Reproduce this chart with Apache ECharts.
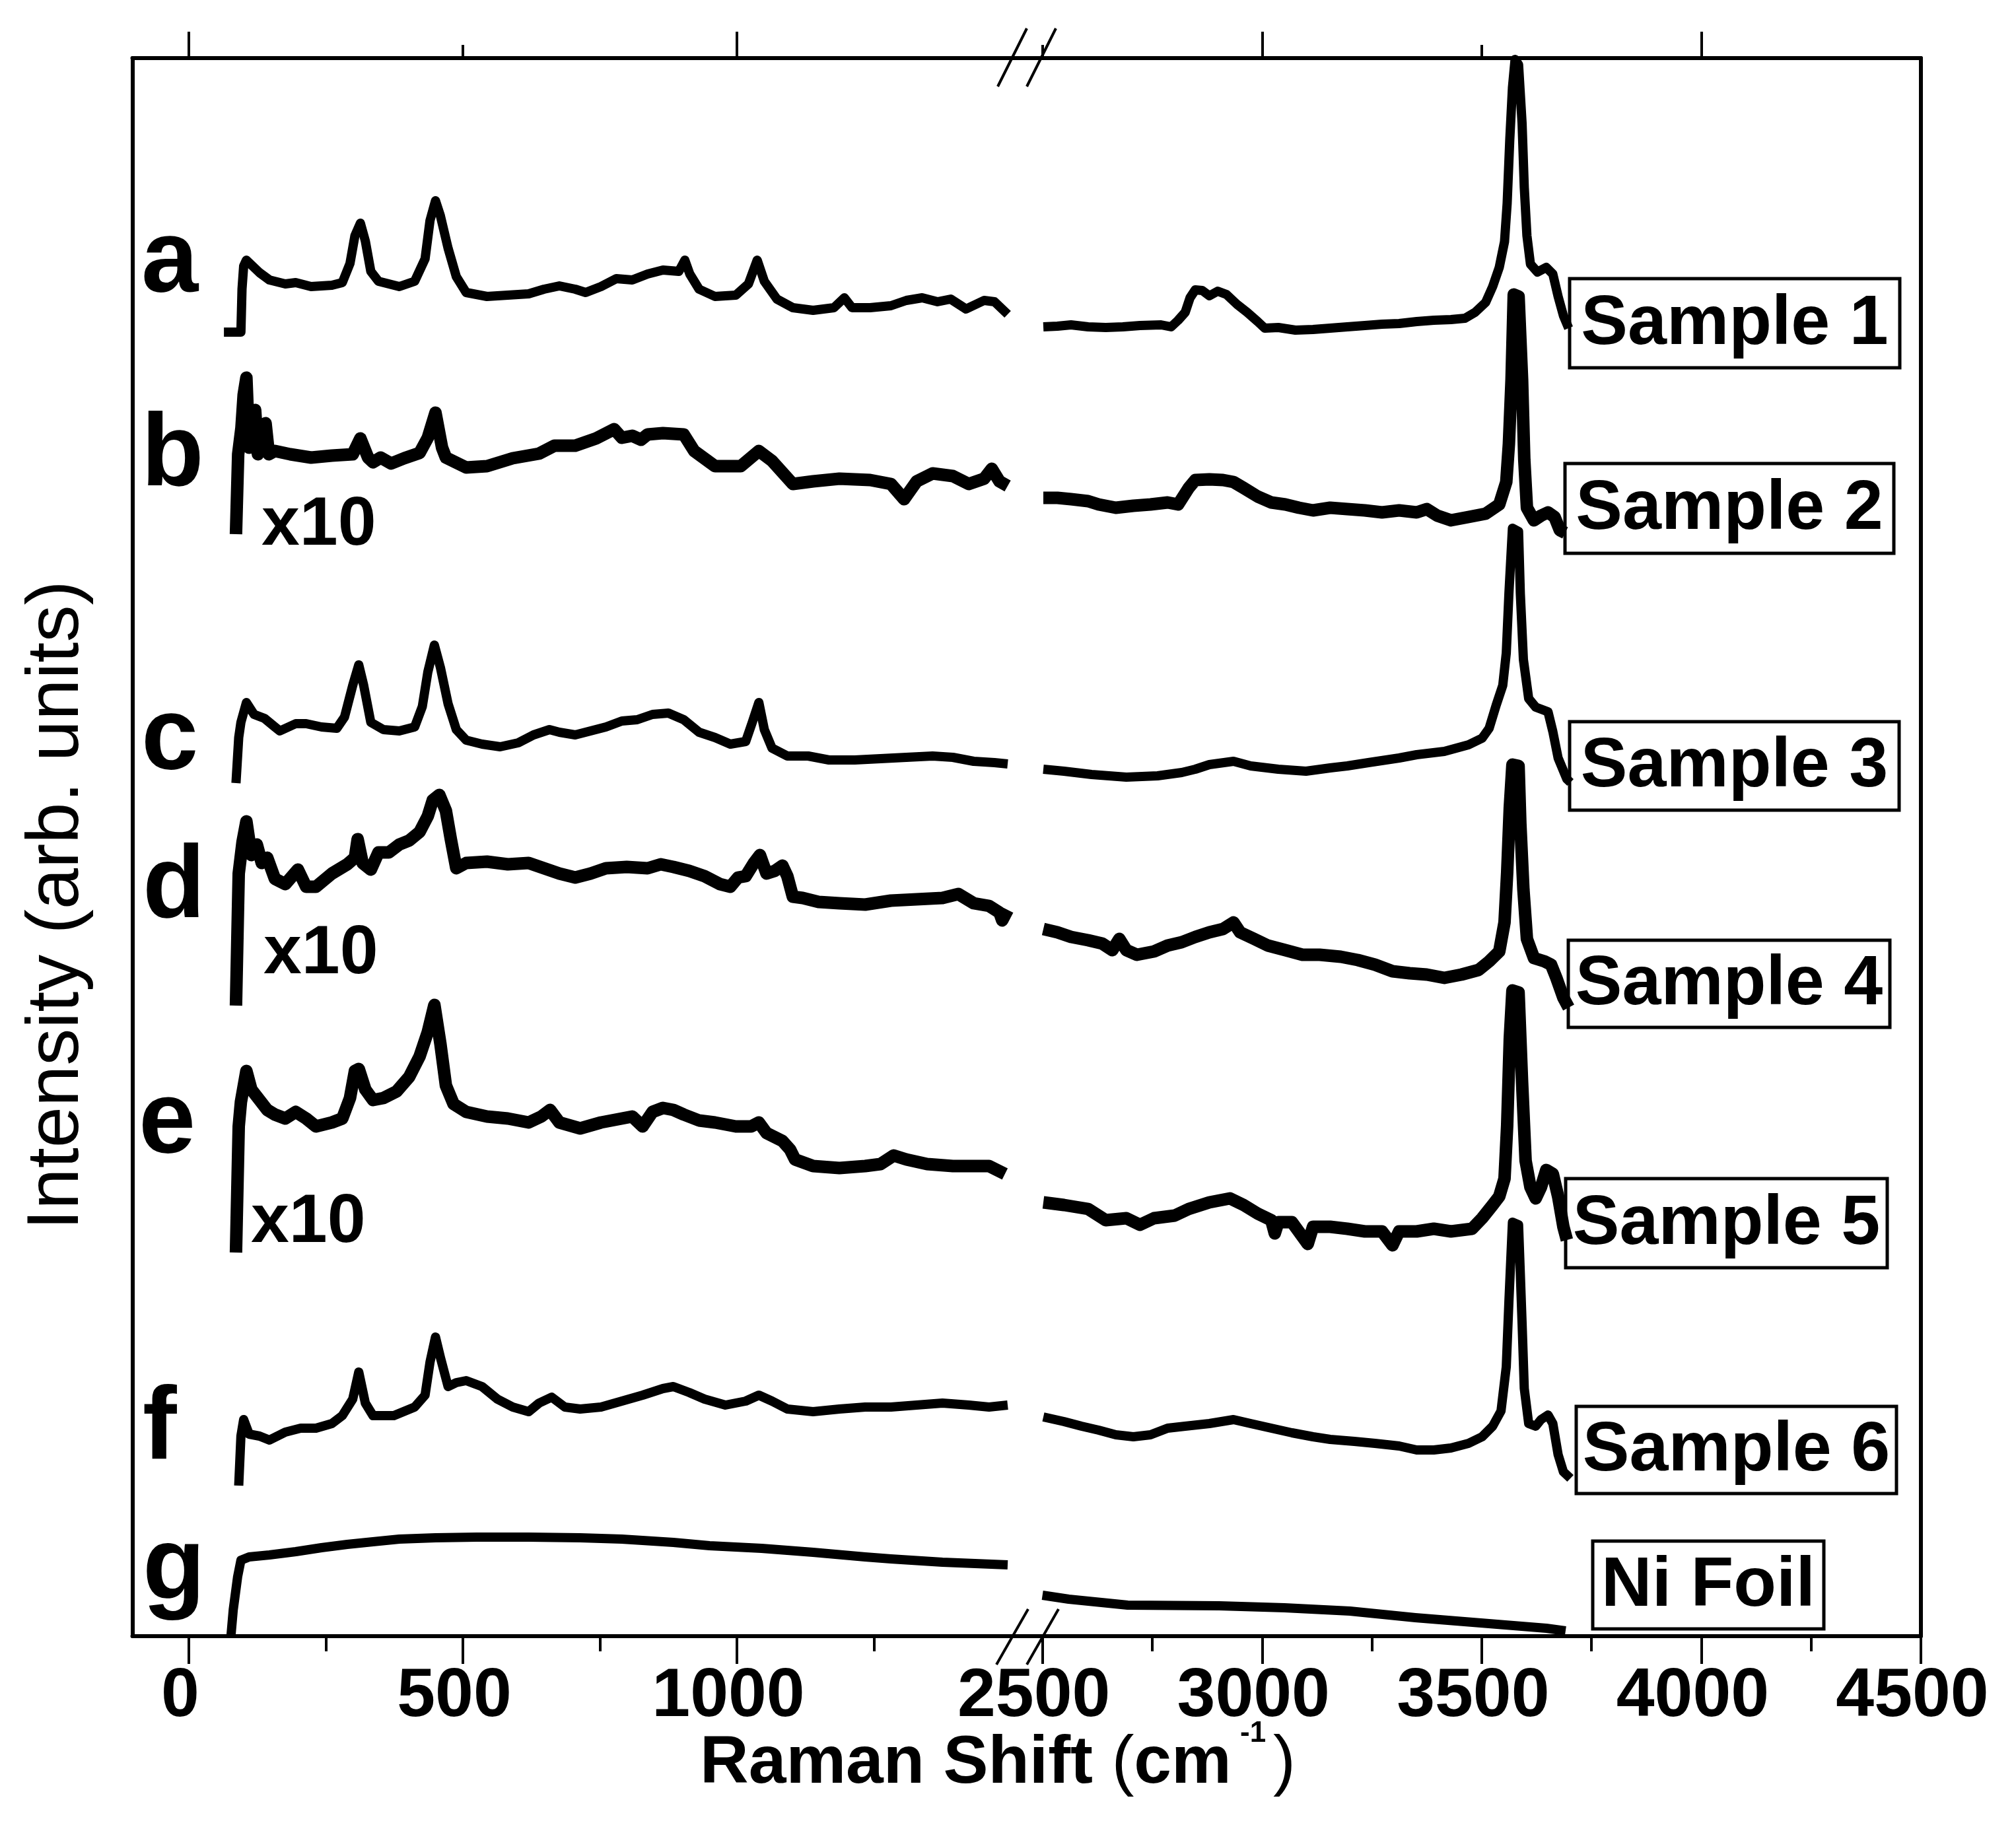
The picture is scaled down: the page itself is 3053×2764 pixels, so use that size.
<!DOCTYPE html>
<html>
<head>
<meta charset="utf-8">
<title>Raman spectra</title>
<script src="https://cdn.jsdelivr.net/npm/echarts@6.0.0/dist/echarts.min.js"></script>
<style>
  html, body { margin: 0; padding: 0; background: #fff; }
  #chart { width: 3053px; height: 2764px; }
</style>
</head>
<body>
<div id="chart"></div>
<script>
// Raman shift (cm-1) / intensity (arb. units, traces already offset)
// low part of the broken axis: 0 - 1500 cm-1
const aLow = [[64,1975],[95,1975],[97,2040],[100,2075],[105,2084],[129,2065],[147,2054],[176,2048],[195,2050],[223,2044],[261,2046],[280,2050],[294,2079],[303,2121],[313,2140],[322,2113],[332,2067],[346,2052],[384,2044],[412,2052],[431,2086],[440,2144],[450,2174],[459,2151],[473,2102],[488,2059],[506,2035],[544,2029],[582,2031],[620,2033],[648,2040],[676,2045],[705,2040],[724,2035],[752,2044],[780,2056],[809,2054],[837,2063],[865,2069],[894,2067],[905,2084],[914,2063],[931,2040],[960,2029],[998,2031],[1021,2048],[1037,2084],[1050,2052],[1073,2025],[1102,2012],[1139,2008],[1177,2012],[1196,2027],[1210,2012],[1243,2012],[1281,2015],[1309,2023],[1338,2027],[1366,2021],[1390,2025],[1418,2010],[1451,2023],[1470,2021],[1494,2002]];
const bLow = [[86,1669],[90,1790],[96,1830],[100,1880],[105,1906],[110,1800],[116,1830],[121,1857],[126,1790],[133,1800],[140,1837],[146,1790],[157,1795],[185,1790],[223,1785],[261,1788],[299,1790],[313,1814],[327,1785],[336,1778],[350,1785],[369,1776],[393,1784],[421,1792],[436,1815],[450,1853],[462,1800],[469,1785],[506,1770],[544,1772],[591,1784],[639,1791],[667,1803],[705,1803],[743,1814],[776,1828],[790,1815],[809,1818],[825,1812],[837,1820],[865,1822],[903,1820],[922,1795],[960,1772],[1007,1772],[1040,1795],[1064,1780],[1102,1745],[1139,1749],[1187,1753],[1243,1751],[1281,1745],[1305,1722],[1328,1749],[1357,1761],[1394,1757],[1423,1745],[1451,1753],[1465,1768],[1479,1749],[1494,1742]];
const cLow = [[86,1292],[91,1361],[95,1384],[105,1414],[119,1396],[138,1390],[157,1377],[166,1371],[195,1382],[214,1382],[242,1377],[270,1375],[284,1392],[299,1440],[310,1471],[319,1440],[332,1384],[355,1373],[384,1371],[412,1377],[426,1408],[436,1460],[448,1501],[459,1467],[473,1412],[488,1373],[506,1357],[535,1351],[568,1347],[601,1353],[629,1365],[658,1373],[676,1369],[705,1365],[733,1371],[761,1377],[790,1386],[818,1388],[846,1396],[875,1398],[903,1388],[931,1369],[960,1361],[988,1351],[1016,1355],[1028,1384],[1040,1414],[1050,1373],[1064,1345],[1092,1333],[1130,1333],[1168,1327],[1215,1327],[1262,1329],[1309,1331],[1357,1333],[1394,1331],[1432,1325],[1470,1323],[1494,1321]];
const dLow = [[86,955],[91,1155],[98,1203],[105,1234],[114,1183],[124,1199],[133,1171],[143,1179],[157,1147],[176,1139],[199,1161],[214,1135],[232,1135],[261,1155],[289,1169],[303,1179],[308,1207],[317,1171],[332,1161],[346,1187],[365,1187],[384,1199],[402,1205],[421,1218],[436,1242],[445,1266],[457,1274],[469,1250],[478,1207],[488,1163],[506,1171],[544,1173],[582,1169],[620,1171],[648,1163],[676,1155],[705,1149],[733,1155],[761,1163],[799,1165],[837,1163],[861,1169],[884,1165],[913,1159],[941,1151],[969,1139],[988,1135],[1002,1149],[1016,1151],[1031,1171],[1042,1183],[1054,1155],[1069,1159],[1083,1167],[1092,1151],[1102,1120],[1120,1118],[1149,1112],[1187,1110],[1234,1108],[1281,1114],[1328,1116],[1375,1118],[1404,1124],[1432,1110],[1460,1106],[1479,1096],[1484,1084],[1494,1100]];
const eLow = [[86,581],[91,772],[95,809],[105,856],[114,828],[129,812],[143,797],[157,790],[176,784],[195,794],[214,784],[232,772],[261,778],[280,784],[294,815],[303,856],[310,859],[322,828],[336,812],[355,815],[379,825],[402,847],[421,878],[436,915],[448,956],[459,897],[469,834],[483,806],[506,794],[544,787],[582,784],[620,778],[643,787],[659,797],[676,778],[714,769],[752,778],[790,784],[809,787],[828,772],[846,794],[865,800],[884,797],[903,790],[931,781],[960,778],[998,772],[1026,772],[1040,778],[1054,762],[1083,750],[1097,737],[1106,722],[1139,712],[1187,709],[1234,712],[1262,715],[1286,728],[1309,722],[1347,715],[1394,712],[1432,712],[1460,712],[1489,700]];
const fLow = [[91,228],[95,303],[100,328],[110,306],[129,303],[147,297],[176,309],[204,315],[232,315],[261,322],[280,334],[299,359],[310,400],[322,353],[336,334],[374,334],[412,347],[431,365],[440,415],[450,453],[459,422],[473,378],[488,384],[506,387],[535,378],[563,359],[591,347],[620,340],[639,353],[662,362],[686,347],[714,344],[752,347],[790,356],[828,365],[865,375],[884,378],[913,369],[941,359],[979,350],[1016,356],[1040,365],[1064,356],[1092,344],[1139,340],[1187,344],[1234,347],[1281,347],[1328,350],[1375,353],[1423,350],[1460,347],[1494,350]];
const gLow = [[77,2],[81,40],[89,90],[95,115],[110,120],[147,123],[195,128],[242,134],[289,139],[336,143],[384,147],[450,149],[525,150],[620,150],[714,149],[790,147],[884,142],[950,137],[1045,133],[1139,127],[1234,120],[1281,117],[1375,112],[1494,108]];

// high part of the broken axis: 2500 - 4500 cm-1
const aHigh = [[2502,1983],[2534,1984],[2565,1986],[2604,1983],[2644,1982],[2683,1983],[2722,1985],[2770,1986],[2793,1983],[2809,1993],[2825,2005],[2836,2027],[2848,2039],[2864,2038],[2880,2030],[2899,2037],[2919,2032],[2943,2017],[2966,2005],[2990,1991],[3006,1981],[3037,1982],[3076,1978],[3116,1979],[3155,1981],[3194,1983],[3234,1985],[3273,1987],[3312,1988],[3352,1991],[3391,1993],[3430,1994],[3462,1996],[3485,2005],[3509,2020],[3525,2044],[3540,2073],[3552,2112],[3558,2170],[3564,2267],[3570,2345],[3576,2388],[3584,2380],[3592,2291],[3597,2194],[3603,2121],[3611,2078],[3627,2066],[3647,2073],[3662,2063],[3674,2029],[3686,2000],[3698,1981]];
const bHigh = [[2502,1724],[2534,1724],[2565,1722],[2604,1719],[2628,1714],[2667,1709],[2707,1712],[2746,1714],[2785,1717],[2809,1714],[2833,1739],[2848,1751],[2880,1752],[2911,1751],[2935,1748],[2958,1739],[2990,1726],[3021,1717],[3053,1714],[3084,1709],[3116,1705],[3155,1709],[3194,1707],[3234,1705],[3273,1702],[3312,1705],[3352,1702],[3375,1707],[3399,1697],[3430,1690],[3470,1695],[3509,1700],[3540,1714],[3556,1748],[3562,1806],[3568,1903],[3573,2032],[3584,2029],[3592,1903],[3597,1782],[3603,1709],[3619,1690],[3635,1697],[3651,1702],[3666,1695],[3678,1675],[3690,1671]];
const cHigh = [[2502,1313],[2549,1310],[2612,1305],[2691,1301],[2762,1303],[2817,1308],[2848,1313],[2880,1320],[2935,1325],[2974,1318],[3037,1313],[3100,1310],[3155,1315],[3194,1318],[3242,1323],[3312,1330],[3352,1335],[3415,1340],[3470,1350],[3501,1360],[3517,1375],[3533,1410],[3548,1440],[3556,1489],[3562,1579],[3570,1678],[3584,1673],[3588,1579],[3595,1479],[3607,1420],[3623,1407],[3651,1400],[3662,1370],[3674,1330],[3694,1298],[3702,1293]];
const dHigh = [[2502,1071],[2534,1066],[2565,1059],[2604,1054],[2636,1049],[2659,1039],[2675,1056],[2691,1039],[2715,1032],[2754,1037],[2785,1046],[2817,1051],[2848,1059],[2880,1066],[2911,1071],[2935,1081],[2950,1066],[2982,1056],[3013,1046],[3053,1039],[3092,1032],[3131,1032],[3179,1029],[3218,1024],[3257,1017],[3297,1007],[3336,1004],[3375,1002],[3415,997],[3454,1002],[3493,1009],[3517,1022],[3540,1037],[3552,1081],[3558,1156],[3564,1255],[3570,1320],[3584,1318],[3588,1231],[3595,1131],[3603,1056],[3619,1027],[3643,1022],[3658,1017],[3670,997],[3686,967],[3698,952]];
const eHigh = [[2502,657],[2549,653],[2604,647],[2644,630],[2691,633],[2722,623],[2754,633],[2801,637],[2833,647],[2880,657],[2927,663],[2958,653],[2990,640],[3021,630],[3029,610],[3037,627],[3068,627],[3104,594],[3116,620],[3155,620],[3194,617],[3234,613],[3273,613],[3297,592],[3312,613],[3352,613],[3391,617],[3430,613],[3478,617],[3501,633],[3525,653],[3540,666],[3552,693],[3558,773],[3564,905],[3570,978],[3584,975],[3592,839],[3600,720],[3611,680],[3623,663],[3635,680],[3647,706],[3662,700],[3674,666],[3686,620],[3694,600]];
const fHigh = [[2502,332],[2549,325],[2589,318],[2628,312],[2667,305],[2707,302],[2746,305],[2785,315],[2825,318],[2880,322],[2935,328],[2974,322],[3021,315],[3068,308],[3116,302],[3155,298],[3210,295],[3257,292],[3312,288],[3352,282],[3391,282],[3430,285],[3470,292],[3501,302],[3525,318],[3544,341],[3556,408],[3562,507],[3570,627],[3584,623],[3592,474],[3597,375],[3607,322],[3623,318],[3635,328],[3651,335],[3662,322],[3674,275],[3686,249],[3702,239]];
const gHigh = [[2500,62],[2560,56],[2694,47],[2902,46],[3051,43],[3200,38],[3349,28],[3498,20],[3647,12],[3691,8]];

const traceLetters = ['a', 'b', 'c', 'd', 'e', 'f', 'g'];
const lowParts = [aLow, bLow, cLow, dLow, eLow, fLow, gLow];
const highParts = [aHigh, bHigh, cHigh, dHigh, eHigh, fHigh, gHigh];
const noisyTraces = ['b', 'd', 'e'];
const sampleNames = ['Sample 1', 'Sample 2', 'Sample 3', 'Sample 4', 'Sample 5', 'Sample 6', 'Ni Foil'];

// axis ticks / labels
const lowMajor = [0, 500, 1000];
const lowMinor = [250, 750, 1250];
const highMajor = [2500, 3000, 3500, 4000, 4500];
const highMinor = [2750, 3250, 3750, 4250];
const lowTopMajor = [0, 1000];
const lowTopMinor = [500];
const highTopMajor = [3000, 4000];
const highTopMinor = [2500, 3500];

const FONT = '"Liberation Sans", Arial, Helvetica, sans-serif';

const chart = echarts.init(document.getElementById('chart'));

function xAxisDef(gridIndex, min, max, position, ticks, tickLen, withLabels, withLine) {
  return {
    type: 'value',
    gridIndex: gridIndex,
    position: position,
    min: min,
    max: max,
    axisLine: { show: withLine, onZero: false, lineStyle: { color: '#000', width: 6 } },
    axisTick: { show: true, inside: false, length: tickLen, customValues: ticks, lineStyle: { color: '#000', width: 4 } },
    axisLabel: withLabels ? {
      show: true,
      customValues: ticks,
      formatter: function (v) { return String(v); },
      margin: 40,
      padding: [0, 26, 0, 0],
      color: '#000',
      fontFamily: FONT,
      fontWeight: 'bold',
      fontSize: 104
    } : { show: false },
    splitLine: { show: false }
  };
}

function yAxisDef(gridIndex, position) {
  return {
    type: 'value',
    gridIndex: gridIndex,
    position: position,
    min: 0,
    max: 2390,
    axisLine: { show: true, onZero: false, lineStyle: { color: '#000', width: 6 } },
    axisTick: { show: false },
    axisLabel: { show: false },
    splitLine: { show: false }
  };
}

const series = [];
traceLetters.forEach(function (letter, i) {
  const w = noisyTraces.indexOf(letter) >= 0 ? 19 : 14;
  [[lowParts[i], 0, 0], [highParts[i], 4, 1]].forEach(function (part) {
    series.push({
      name: sampleNames[i],
      type: 'line',
      xAxisIndex: part[1],
      yAxisIndex: part[2],
      data: part[0],
      showSymbol: false,
      symbol: 'none',
      silent: true,
      lineStyle: { color: '#000', width: w, join: 'round' }
    });
  });
});

function text(str, x, y, size, weight, align) {
  return {
    type: 'text', x: x, y: y, silent: true, z: 100,
    style: {
      text: str, fill: '#000',
      font: weight + ' ' + size + 'px ' + FONT,
      align: align || 'left', verticalAlign: 'middle',
      textAlign: align || 'left', textVerticalAlign: 'middle'
    }
  };
}

function sampleBox(label, x0, y0, x1, y1) {
  return [
    {
      type: 'rect', silent: true, z: 100,
      shape: { x: x0, y: y0, width: x1 - x0, height: y1 - y0 },
      style: { fill: 'none', stroke: '#000', lineWidth: 5 }
    },
    text(label, (x0 + x1) / 2, (y0 + y1) / 2 + 2, 106, 'bold', 'center')
  ];
}

function slash(x0, y0, x1, y1) {
  return {
    type: 'line', silent: true, z: 100,
    shape: { x1: x0, y1: y0, x2: x1, y2: y1 },
    style: { stroke: '#000', lineWidth: 4 }
  };
}

const graphics = [
  // trace letters
  text('a', 214, 398, 155, 'bold'),
  text('b', 214, 692, 155, 'bold'),
  text('c', 214, 1121, 155, 'bold'),
  text('d', 216, 1346, 155, 'bold'),
  text('e', 210, 1702, 155, 'bold'),
  text('f', 216, 2166, 155, 'bold'),
  text('g', 216, 2378, 155, 'bold'),
  // scale factors
  text('x10', 396, 796, 104, 'bold'),
  text('x10', 399, 1445, 104, 'bold'),
  text('x10', 380, 1852, 104, 'bold'),
  // axis break marks
  slash(1509, 2521, 1557, 2437),
  slash(1555, 2521, 1603, 2437),
  slash(1511, 131, 1555, 43),
  slash(1555, 131, 1599, 43),
  // axis titles
  {
    type: 'text', x: 87, y: 1371, rotation: Math.PI / 2, silent: true,
    style: {
      text: 'Intensity (arb. units)', fill: '#000',
      font: 'normal 112px ' + FONT,
      align: 'center', verticalAlign: 'middle',
      textAlign: 'center', textVerticalAlign: 'middle'
    }
  },
  {
    type: 'text', x: 1060, y: 2672, silent: true,
    style: {
      text: '{b|Raman Shift }{p|(}{b|cm}',
      fill: '#000',
      align: 'left', verticalAlign: 'middle',
      textAlign: 'left', textVerticalAlign: 'middle',
      rich: {
        b: { fontFamily: FONT, fontWeight: 'bold', fontSize: 102, fill: '#000' },
        p: { fontFamily: FONT, fontWeight: 'normal', fontSize: 102, fill: '#000' }
      }
    }
  },
  text('-1', 1878, 2626, 44, 'bold'),
  text(')', 1928, 2672, 102, 'normal')
];

const boxes = [
  [2377, 422, 2877, 557],
  [2370, 702, 2868, 838],
  [2377, 1093, 2876, 1227],
  [2375, 1424, 2862, 1556],
  [2371, 1785, 2858, 1920],
  [2387, 2130, 2872, 2262],
  [2412, 2334, 2762, 2467]
];
boxes.forEach(function (b, i) {
  sampleBox(sampleNames[i], b[0], b[1], b[2], b[3]).forEach(function (el) { graphics.push(el); });
});

const option = {
  animation: false,
  backgroundColor: '#fff',
  grid: [
    { left: 200.5, top: 88, width: 1352.9, height: 2390, outerBoundsMode: 'none', containLabel: false },
    { left: 1553.4, top: 88, right: 144, height: 2390, outerBoundsMode: 'none', containLabel: false }
  ],
  xAxis: [
    xAxisDef(0, -103, 1527, 'bottom', lowMajor, 42, true, true),
    xAxisDef(0, -103, 1527, 'bottom', lowMinor, 23, false, false),
    xAxisDef(0, -103, 1527, 'top', lowTopMajor, 40, false, true),
    xAxisDef(0, -103, 1527, 'top', lowTopMinor, 20, false, false),
    xAxisDef(1, 2462, 4500, 'bottom', highMajor, 42, true, true),
    xAxisDef(1, 2462, 4500, 'bottom', highMinor, 23, false, false),
    xAxisDef(1, 2462, 4500, 'top', highTopMajor, 40, false, true),
    xAxisDef(1, 2462, 4500, 'top', highTopMinor, 20, false, false)
  ],
  yAxis: [
    yAxisDef(0, 'left'),
    yAxisDef(1, 'right')
  ],
  series: series,
  graphic: graphics
};

chart.setOption(option);
</script>
</body>
</html>
